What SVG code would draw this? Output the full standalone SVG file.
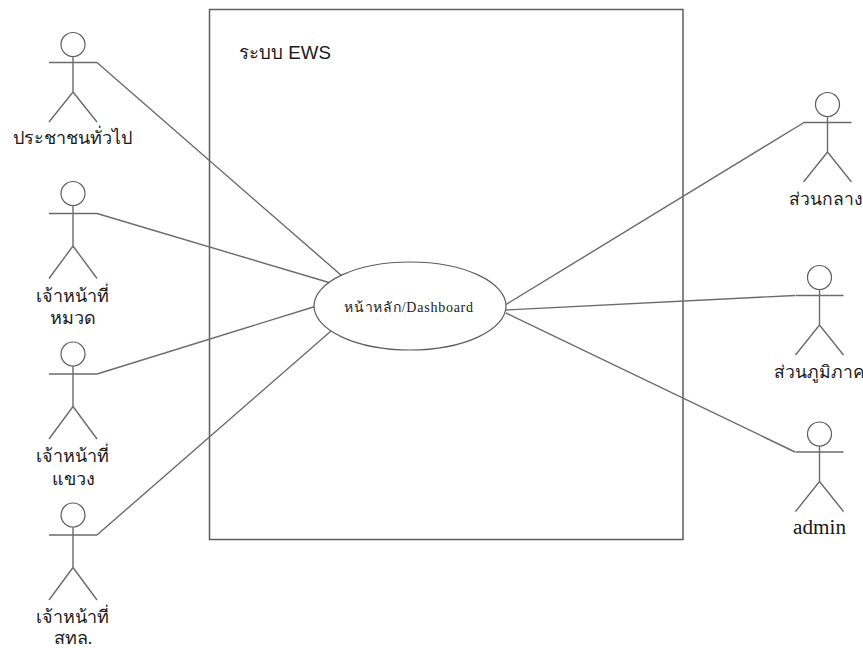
<svg xmlns="http://www.w3.org/2000/svg" width="863" height="648" viewBox="0 0 863 648">
<style>
.l{fill:none;stroke:#6b6b6b;stroke-width:1.4}
.s{fill:#fff;stroke:#5e5e5e;stroke-width:1.2}
text{fill:#1a1a1a;text-anchor:middle;font-family:"Liberation Serif",serif;font-size:18px}
.r{font-size:17.500px}
</style>
<defs>
<g id="stick"><circle cx="0" cy="11.500" r="12" class="s"/><path class="l" d="M0 23.500V59M-24 29.500H24M0 59L-24 89M0 59L24 89"/></g>
<g id="stickTall"><circle cx="0" cy="12" r="12" class="s"/><path class="l" d="M0 24V64.500M-24 32H24M0 64.500L-24 97M0 64.500L24 97"/></g>
</defs>
<rect width="863" height="648" fill="#fff"/>
<g id="system"><rect x="209.500" y="9.500" width="473.500" height="530" fill="#fff" stroke="#5e5e5e" stroke-width="1.500"/><text x="285" y="59" style="font-family:'Liberation Sans',sans-serif;font-size:18.700px">ระบบ EWS</text></g>
<g id="connectors">
<path class="l" d="M97 62.500L342 276M97 213.500L329 282.500M97 374L315 306.500M97 535L331 331M804 122.500L506 304.500M795 295.500L506 310M795 452L506 313"/>
</g>
<g id="usecase"><ellipse cx="410" cy="306" rx="96" ry="44" fill="#fff" stroke="#5e5e5e" stroke-width="1.200"/><text x="409" y="312" style="font-size:14px" letter-spacing="0.750">หน้าหลัก/Dashboard</text></g>
<g id="actor1"><use href="#stick" x="73" y="33"/><text x="72.500" y="144">ประชาชนทั่วไป</text></g>
<g id="actor2"><use href="#stickTall" x="73" y="181.500"/><text x="72" y="302">เจ้าหน้าที่</text><text x="73" y="324">หมวด</text></g>
<g id="actor3"><use href="#stickTall" x="73" y="342"/><text x="72" y="462">เจ้าหน้าที่</text><text x="73" y="485">แขวง</text></g>
<g id="actor4"><use href="#stickTall" x="73" y="503"/><text x="72" y="623">เจ้าหน้าที่</text><text x="73" y="644">สทล.</text></g>
<g id="actor5"><use href="#stick" x="827.500" y="93"/><text class="r" x="826" y="205">ส่วนกลาง</text></g>
<g id="actor6"><use href="#stick" x="819.500" y="266"/><text class="r" x="819" y="378">ส่วนภูมิภาค</text></g>
<g id="actor7"><use href="#stick" x="819.500" y="422.500"/><text x="819.500" y="534" style="font-size:20px" textLength="53" lengthAdjust="spacingAndGlyphs">admin</text></g>
</svg>
